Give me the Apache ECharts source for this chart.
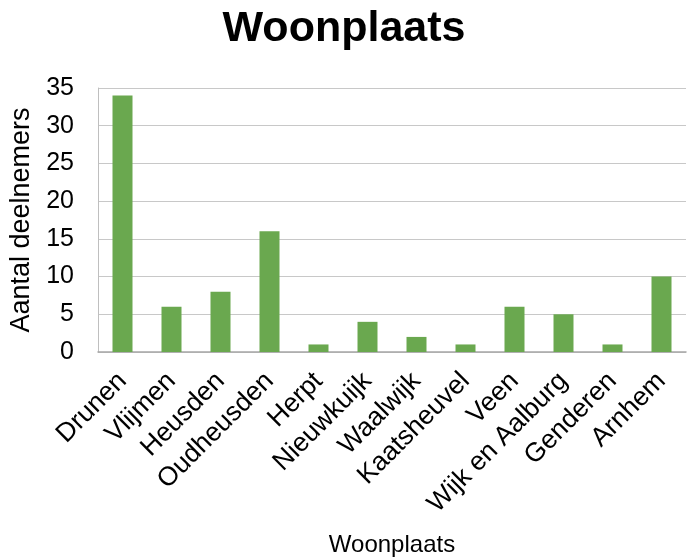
<!DOCTYPE html>
<html>
<head>
<meta charset="utf-8">
<script src="https://cdn.jsdelivr.net/npm/echarts@6/dist/echarts.min.js"></script>
<style>
  html, body { margin: 0; padding: 0; background: #fff; }
  #chart { width: 688px; height: 559px; }
</style>
</head>
<body>
<div id="chart"></div>
<script>
var places = ['Drunen', 'Vlijmen', 'Heusden', 'Oudheusden', 'Herpt', 'Nieuwkuijk',
  'Waalwijk', 'Kaatsheuvel', 'Veen', 'Wijk en Aalburg', 'Genderen', 'Arnhem'];
var counts = [34, 6, 8, 16, 1, 4, 2, 1, 6, 5, 1, 10];

var font = 'Liberation Sans, Arial, sans-serif';
var chart = echarts.init(document.getElementById('chart'));
var option = {
  animation: false,
  title: {
    text: 'Woonplaats',
    left: 'center',
    top: 3,
    textStyle: { fontFamily: font, fontSize: 43, fontWeight: 'bold', color: '#000' }
  },
  grid: { left: 98, right: 2, top: 88, bottom: 207 },
  xAxis: {
    type: 'category',
    data: places,
    name: 'Woonplaats',
    nameLocation: 'middle',
    nameGap: 181,
    nameTextStyle: { fontFamily: font, fontSize: 24, color: '#000' },
    axisLine: { lineStyle: { color: '#a6a6a6', width: 1.5 } },
    axisTick: { show: false },
    axisLabel: {
      rotate: 45,
      interval: 0,
      margin: 25,
      fontFamily: font,
      fontSize: 26.5,
      color: '#000'
    }
  },
  yAxis: {
    type: 'value',
    min: 0,
    max: 35,
    interval: 5,
    name: 'Aantal deelnemers',
    nameLocation: 'middle',
    nameGap: 55,
    nameTextStyle: { fontFamily: font, fontSize: 27, color: '#000' },
    axisLine: { show: true, lineStyle: { color: '#bfbfbf' } },
    axisTick: { show: false },
    axisLabel: { margin: 24, fontFamily: font, fontSize: 25, color: '#000' },
    splitLine: { lineStyle: { color: '#c8c8c8' } }
  },
  series: [{
    type: 'bar',
    data: counts,
    barWidth: 20,
    itemStyle: { color: '#6aa84f' }
  }]
};
chart.setOption(option);
</script>
</body>
</html>
